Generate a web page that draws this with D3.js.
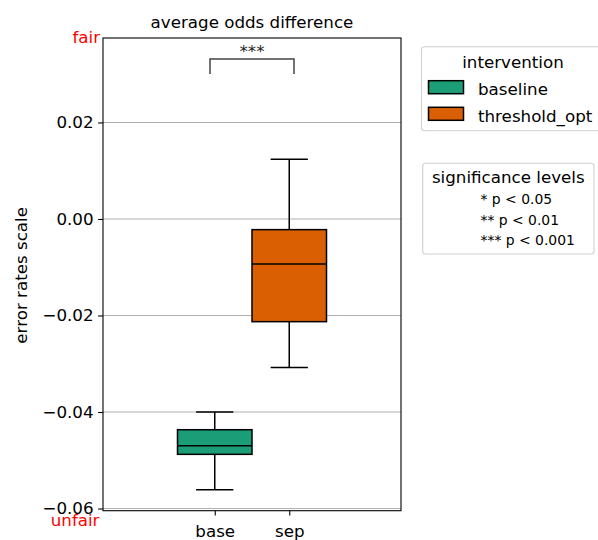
<!DOCTYPE html>
<html>
<head>
<meta charset="utf-8">
<script src="https://cdn.jsdelivr.net/npm/d3@7"></script>
<style>
  html, body { margin: 0; padding: 0; background: #fff; }
  svg { display: block; }
  text { font-family: "DejaVu Sans", sans-serif; }
</style>
</head>
<body>
<svg id="chart" width="598" height="540"></svg>
<script>
// ---- data ----
const categories = ["base", "sep"];
const interventions = ["baseline", "threshold_opt"];
const colors = ["#1b9e77", "#d95f02"];
// box stats: [whiskerLow, q1, median, q3, whiskerHigh]
const baselineStats = [-0.0561, -0.04877, -0.04698, -0.04367, -0.0400];
const thresholdStats = [-0.0308, -0.02128, -0.00933, -0.00221, 0.01237];
const yTicks = [-0.06, -0.04, -0.02, 0.00, 0.02];
const sigLevels = ["* p < 0.05", "** p < 0.01", "*** p < 0.001"];
const sigLabel = "***";

const boxes = [
  { cat: categories[0], group: interventions[0], stats: baselineStats, color: colors[0], pos: 1.5 },
  { cat: categories[1], group: interventions[1], stats: thresholdStats, color: colors[1], pos: 2.5 }
];

// ---- layout ----
const L = 103, R = 401, T = 38, B = 510.7;
const svg = d3.select("#chart");
const FS = 16.7;

const y = d3.scaleLinear().domain([-0.06045, 0.0375]).range([B, T]);
const x = d3.scaleLinear().domain([0, 4]).range([L, R]);
const bw = x(1) - x(0);

// gridlines
svg.append("g").selectAll("line").data(yTicks).join("line")
  .attr("x1", L).attr("x2", R)
  .attr("y1", d => y(d)).attr("y2", d => y(d))
  .attr("stroke", "#b0b0b0").attr("stroke-width", 1.1);

// y axis
const yAxis = d3.axisLeft(y).tickValues(yTicks).tickSize(4.9).tickPadding(4.5)
  .tickFormat(d => d3.format(".2f")(d).replace("-", "\u2212"));
const gy = svg.append("g").attr("transform", `translate(${L},0)`).call(yAxis);
gy.select(".domain").remove();
gy.selectAll(".tick line").attr("stroke", "#000").attr("stroke-width", 1.1);
gy.selectAll(".tick text").attr("font-size", FS).attr("fill", "#000")
  .attr("font-family", "DejaVu Sans");

// x axis
const xAxis = d3.axisBottom(x).tickValues(boxes.map(b => b.pos))
  .tickFormat((d, i) => categories[i]).tickSize(4.9).tickPadding(9.5);
const gx = svg.append("g").attr("transform", `translate(0,${B})`).call(xAxis);
gx.select(".domain").remove();
gx.selectAll(".tick line").attr("stroke", "#000").attr("stroke-width", 1.1);
gx.selectAll(".tick text").attr("font-size", FS).attr("fill", "#000")
  .attr("font-family", "DejaVu Sans");

// boxes
const gb = svg.append("g");
boxes.forEach(b => {
  const [lo, q1, med, q3, hi] = b.stats;
  const cx = x(b.pos);
  const g = gb.append("g");
  g.append("line").attr("x1", cx).attr("x2", cx).attr("y1", y(q3)).attr("y2", y(hi))
    .attr("stroke", "#000").attr("stroke-width", 1.5);
  g.append("line").attr("x1", cx).attr("x2", cx).attr("y1", y(q1)).attr("y2", y(lo))
    .attr("stroke", "#000").attr("stroke-width", 1.5);
  [lo, hi].forEach(v => {
    g.append("line").attr("x1", cx - bw / 4).attr("x2", cx + bw / 4)
      .attr("y1", y(v)).attr("y2", y(v)).attr("stroke", "#000").attr("stroke-width", 1.5);
  });
  g.append("rect").attr("x", cx - bw / 2).attr("width", bw)
    .attr("y", y(q3)).attr("height", y(q1) - y(q3))
    .attr("fill", b.color).attr("stroke", "#000").attr("stroke-width", 1.5);
  g.append("line").attr("x1", cx - bw / 2).attr("x2", cx + bw / 2)
    .attr("y1", y(med)).attr("y2", y(med)).attr("stroke", "#000").attr("stroke-width", 1.5);
});

// spines
svg.append("rect").attr("x", L).attr("y", T).attr("width", R - L).attr("height", B - T)
  .attr("fill", "none").attr("stroke", "#000").attr("stroke-width", 1.1);

// significance bracket
const bx1 = x(boxes[0].pos) - 4.75, bx2 = x(boxes[1].pos) + 4.75;
svg.append("path")
  .attr("d", `M${bx1},74 V59 H${bx2} V74`)
  .attr("fill", "none").attr("stroke", "#444").attr("stroke-width", 1.5);
svg.append("text").attr("x", (bx1 + bx2) / 2).attr("y", 57)
  .attr("text-anchor", "middle").attr("font-size", FS).attr("fill", "#222").text(sigLabel);

// title
svg.append("text").attr("x", (L + R) / 2).attr("y", 27.5).attr("text-anchor", "middle")
  .attr("font-size", FS).attr("fill", "#000").text("average odds difference");

// y label
svg.append("text").attr("transform", `translate(26.8,${(T + B) / 2 + 1}) rotate(-90)`)
  .attr("text-anchor", "middle").attr("font-size", FS).attr("fill", "#000")
  .text("error rates scale");

// fair/unfair
svg.append("text").attr("x", 100).attr("y", 43).attr("text-anchor", "end")
  .attr("font-size", FS).attr("fill", "red").text("fair");
svg.append("text").attr("x", 99.5).attr("y", 525.5).attr("text-anchor", "end")
  .attr("font-size", FS).attr("fill", "red").text("unfair");

// legend 1
const lg = svg.append("g");
lg.append("rect").attr("x", 421.5).attr("y", 46.7).attr("width", 185).attr("height", 84)
  .attr("rx", 3).attr("fill", "#fff").attr("fill-opacity", 0.8)
  .attr("stroke", "#d0d0d0").attr("stroke-width", 1.1);
lg.append("text").attr("x", 513).attr("y", 68.3).attr("text-anchor", "middle")
  .attr("font-size", FS).attr("fill", "#000").text("intervention");
interventions.forEach((name, i) => {
  const yy = 80.7 + i * 26.6;
  lg.append("rect").attr("x", 428.5).attr("y", yy).attr("width", 35).attr("height", 13)
    .attr("fill", colors[i]).attr("stroke", "#000").attr("stroke-width", 1.5);
  lg.append("text").attr("x", 478).attr("y", yy + 14.2).attr("font-size", FS)
    .attr("fill", "#000").text(name);
});

// legend 2
const lg2 = svg.append("g");
lg2.append("rect").attr("x", 422.7).attr("y", 163.3).attr("width", 171.3).attr("height", 90.7)
  .attr("rx", 3).attr("fill", "#fff").attr("fill-opacity", 0.8)
  .attr("stroke", "#d0d0d0").attr("stroke-width", 1.1);
lg2.append("text").attr("x", 508.3).attr("y", 182.5).attr("text-anchor", "middle")
  .attr("font-size", FS).attr("fill", "#000").text("significance levels");
sigLevels.forEach((s, i) => {
  lg2.append("text").attr("x", 480.5).attr("y", 204.3 + i * 20.4)
    .attr("font-size", 13.9).attr("fill", "#000").text(s);
});
</script>
</body>
</html>
